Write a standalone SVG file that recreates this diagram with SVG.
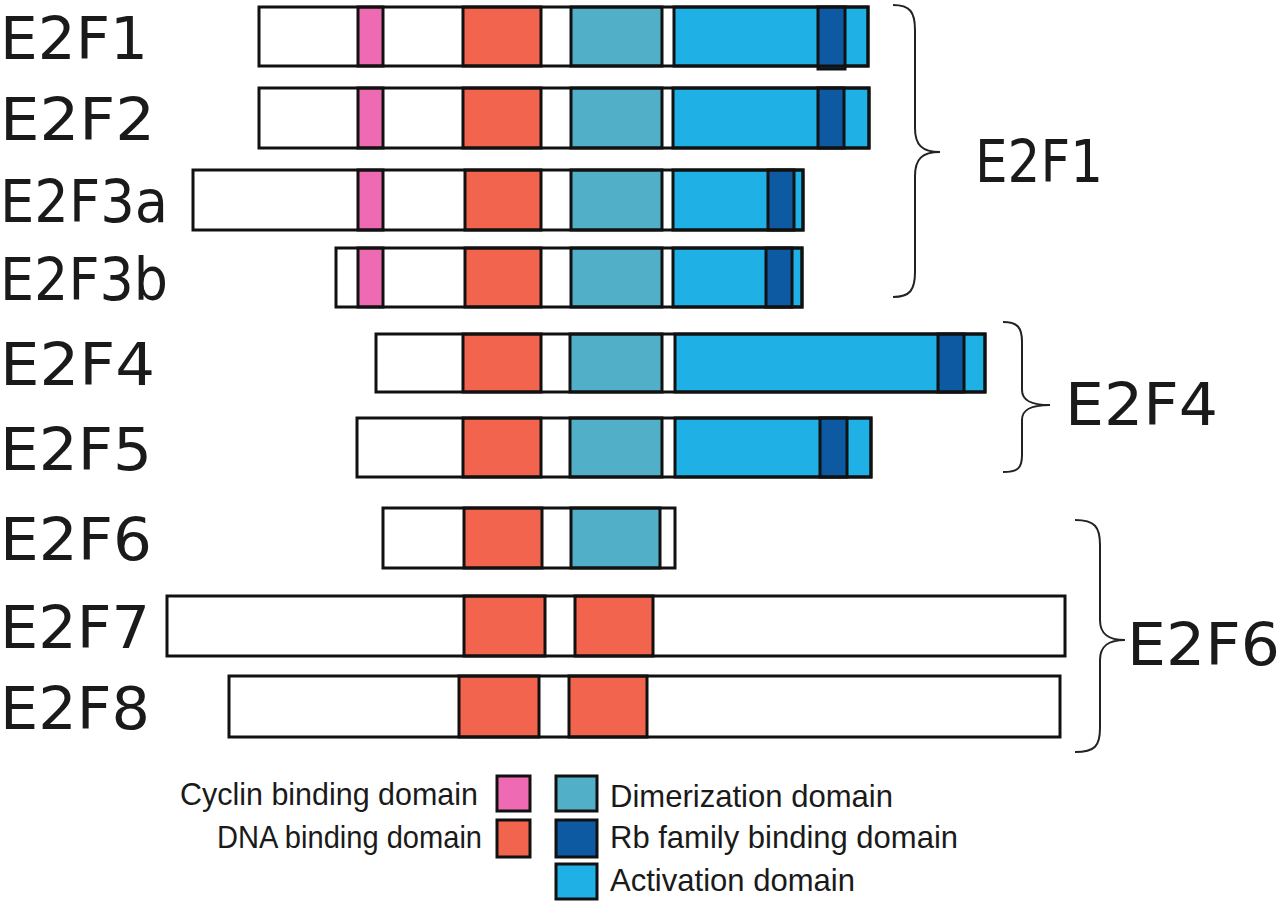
<svg xmlns="http://www.w3.org/2000/svg" width="1280" height="902" viewBox="0 0 1280 902">
<style>
.lbl{font-family:"DejaVu Sans","Liberation Sans",sans-serif;font-size:58px;fill:#1a1a1a}
.leg{font-family:"Liberation Sans",Arial,sans-serif;font-size:32px;fill:#1a1a1a}
.box{fill:none;stroke:#111;stroke-width:3}
.seg{stroke:#111;stroke-width:3}
.cyc{fill:#ee6ab3}
.dna{fill:#f3644f}
.dim{fill:#52afc8}
.rb{fill:#0d5aa3}
.act{fill:#1fb0e6}
.br{fill:none;stroke:#222;stroke-width:2}
</style>
<rect width="1280" height="902" fill="#fff"/>

<g id="E2F1">
<text class="lbl" x="0" y="59" textLength="148" lengthAdjust="spacingAndGlyphs">E2F1</text>
<rect x="259" y="7" width="609" height="59" fill="#fff"/>
<rect class="seg cyc" x="358" y="7" width="25" height="59"/>
<rect class="seg dna" x="463" y="7" width="78" height="59"/>
<rect class="seg dim" x="571" y="7" width="91" height="59"/>
<rect class="seg act" x="674" y="7" width="194" height="59"/>
<rect class="seg rb" x="818" y="7" width="27" height="62"/>
<rect class="box" x="259" y="7" width="609" height="59"/>
</g>

<g id="E2F2">
<text class="lbl" x="0" y="140" textLength="155" lengthAdjust="spacingAndGlyphs">E2F2</text>
<rect x="259" y="88" width="610" height="60" fill="#fff"/>
<rect class="seg cyc" x="358" y="88" width="25" height="60"/>
<rect class="seg dna" x="463" y="88" width="78" height="60"/>
<rect class="seg dim" x="571" y="88" width="91" height="60"/>
<rect class="seg act" x="673" y="88" width="196" height="60"/>
<rect class="seg rb" x="818" y="88" width="26" height="60"/>
<rect class="box" x="259" y="88" width="610" height="60"/>
</g>

<g id="E2F3a">
<text class="lbl" x="0" y="222" textLength="168" lengthAdjust="spacingAndGlyphs">E2F3a</text>
<rect x="193" y="170" width="610" height="60" fill="#fff"/>
<rect class="seg cyc" x="358" y="170" width="25" height="60"/>
<rect class="seg dna" x="465" y="170" width="76" height="60"/>
<rect class="seg dim" x="571" y="170" width="91" height="60"/>
<rect class="seg act" x="673" y="170" width="130" height="60"/>
<rect class="seg rb" x="768" y="170" width="26" height="60"/>
<rect class="box" x="193" y="170" width="610" height="60"/>
</g>

<g id="E2F3b">
<text class="lbl" x="0" y="300" textLength="168" lengthAdjust="spacingAndGlyphs">E2F3b</text>
<rect x="336" y="248" width="466" height="59" fill="#fff"/>
<rect class="seg cyc" x="358" y="248" width="25" height="59"/>
<rect class="seg dna" x="465" y="248" width="76" height="59"/>
<rect class="seg dim" x="571" y="248" width="91" height="59"/>
<rect class="seg act" x="673" y="248" width="129" height="59"/>
<rect class="seg rb" x="766" y="248" width="26" height="59"/>
<rect class="box" x="336" y="248" width="466" height="59"/>
</g>

<g id="E2F4">
<text class="lbl" x="0" y="385" textLength="155" lengthAdjust="spacingAndGlyphs">E2F4</text>
<rect x="376" y="334" width="609" height="58" fill="#fff"/>
<rect class="seg dna" x="463" y="334" width="78" height="58"/>
<rect class="seg dim" x="570" y="334" width="92" height="58"/>
<rect class="seg act" x="675" y="334" width="310" height="58"/>
<rect class="seg rb" x="938" y="334" width="26" height="58"/>
<rect class="box" x="376" y="334" width="609" height="58"/>
</g>

<g id="E2F5">
<text class="lbl" x="0" y="470" textLength="152" lengthAdjust="spacingAndGlyphs">E2F5</text>
<rect x="357" y="418" width="514" height="59" fill="#fff"/>
<rect class="seg dna" x="463" y="418" width="78" height="59"/>
<rect class="seg dim" x="570" y="418" width="92" height="59"/>
<rect class="seg act" x="675" y="418" width="196" height="59"/>
<rect class="seg rb" x="820" y="418" width="27" height="59"/>
<rect class="box" x="357" y="418" width="514" height="59"/>
</g>

<g id="E2F6">
<text class="lbl" x="0" y="560" textLength="152" lengthAdjust="spacingAndGlyphs">E2F6</text>
<rect x="383" y="508" width="292" height="60" fill="#fff"/>
<rect class="seg dna" x="464" y="508" width="78" height="60"/>
<rect class="seg dim" x="571" y="508" width="89" height="60"/>
<rect class="box" x="383" y="508" width="292" height="60"/>
</g>

<g id="E2F7">
<text class="lbl" x="0" y="648" textLength="150" lengthAdjust="spacingAndGlyphs">E2F7</text>
<rect x="167" y="596" width="898" height="60" fill="#fff"/>
<rect class="seg dna" x="464" y="596" width="81" height="60"/>
<rect class="seg dna" x="575" y="596" width="78" height="60"/>
<rect class="box" x="167" y="596" width="898" height="60"/>
</g>

<g id="E2F8">
<text class="lbl" x="0" y="729" textLength="150" lengthAdjust="spacingAndGlyphs">E2F8</text>
<rect x="229" y="676" width="831" height="61" fill="#fff"/>
<rect class="seg dna" x="459" y="676" width="80" height="61"/>
<rect class="seg dna" x="569" y="676" width="78" height="61"/>
<rect class="box" x="229" y="676" width="831" height="61"/>
</g>

<g id="connectors">
<path class="br" d="M893,5 C910,5 915,12 915,30 L915,128 C915,145 922,152 940,152 C922,152 915,159 915,176 L915,272 C915,290 910,297 893,297"/>
<path class="br" d="M1003,322 C1018,322 1022,328 1022,342 L1022,390 C1022,400 1030,405 1050,405 C1030,405 1022,410 1022,420 L1022,455 C1022,468 1018,472 1003,472"/>
<path class="br" d="M1075,520 C1095,520 1100,527 1100,545 L1100,620 C1100,634 1108,640 1125,640 C1108,640 1100,646 1100,660 L1100,728 C1100,746 1095,752 1075,752"/>
</g>

<g id="groups">
<text class="lbl" x="975" y="182" textLength="128" lengthAdjust="spacingAndGlyphs">E2F1</text>
<text class="lbl" x="1065" y="425" textLength="153" lengthAdjust="spacingAndGlyphs">E2F4</text>
<text class="lbl" x="1127" y="665" textLength="153" lengthAdjust="spacingAndGlyphs">E2F6</text>
</g>

<g id="legend">
<rect class="seg cyc" x="497" y="776" width="33" height="35"/>
<rect class="seg dna" x="497" y="820" width="33" height="37"/>
<rect class="seg dim" x="556" y="776" width="41" height="35"/>
<rect class="seg rb" x="556" y="820" width="41" height="37"/>
<rect class="seg act" x="556" y="864" width="41" height="35"/>
<text class="leg" x="180" y="805" textLength="298" lengthAdjust="spacingAndGlyphs">Cyclin binding domain</text>
<text class="leg" x="217" y="848" textLength="265" lengthAdjust="spacingAndGlyphs">DNA binding domain</text>
<text class="leg" x="610" y="807" textLength="283" lengthAdjust="spacingAndGlyphs">Dimerization domain</text>
<text class="leg" x="610" y="848" textLength="348" lengthAdjust="spacingAndGlyphs">Rb family binding domain</text>
<text class="leg" x="610" y="891" textLength="245" lengthAdjust="spacingAndGlyphs">Activation domain</text>
</g>
</svg>
